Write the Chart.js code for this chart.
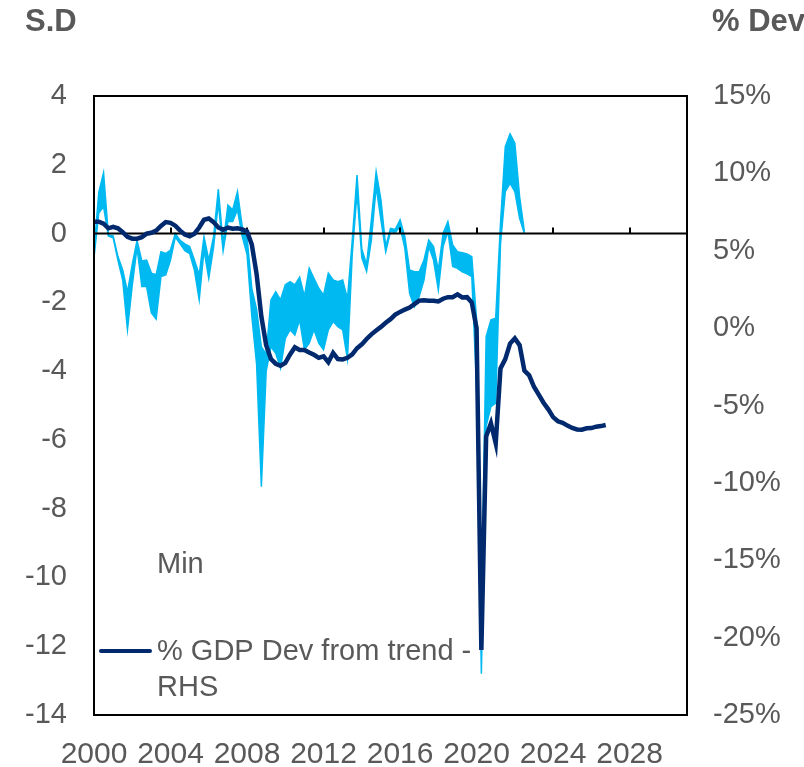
<!DOCTYPE html>
<html>
<head>
<meta charset="utf-8">
<script src="https://cdn.jsdelivr.net/npm/chart.js@4.4.1/dist/chart.umd.min.js"></script>
<style>
  body { margin: 0; background: #fff; }
  canvas { display: block; }
</style>
</head>
<body>
<canvas id="chart" width="804" height="767"></canvas>
<script>
// Quarterly data, 2000Q1 onwards
const startYear = 2000;

// % GDP deviation from trend (RHS), 2000Q1 - 2026Q4
const gdpDev = [
    6.88, 6.88, 6.75, 6.45, 6.55, 6.45, 6.2, 5.9, 5.78, 5.78,
    5.88, 6.1, 6.16, 6.3, 6.6, 6.85, 6.8, 6.62, 6.3, 6.05,
    5.93, 6.1, 6.5, 7.0, 7.08, 6.85, 6.5, 6.35, 6.5, 6.42,
    6.45, 6.38, 6.25, 5.4, 3.5, 0.74, -1.1, -2.0, -2.3, -2.43,
    -2.25, -1.7, -1.24, -1.41, -1.41, -1.57, -1.72, -1.92, -1.82, -2.2,
    -1.6, -2.0, -2.02, -1.92, -1.7, -1.3, -1.05, -0.7, -0.4, -0.15,
    0.08, 0.35, 0.58, 0.87, 1.05, 1.2, 1.33, 1.55, 1.78, 1.8,
    1.77, 1.77, 1.72, 1.9, 2.0, 2.0, 2.18, 1.98, 2.0, 1.65,
    0.0, -20.8, -7.0, -6.15, -7.44, -2.6, -2.0, -1.0, -0.66, -1.1,
    -2.75, -3.05, -3.79, -4.3, -4.82, -5.25, -5.75, -6.02, -6.12, -6.3,
    -6.45, -6.55, -6.56, -6.47, -6.46, -6.37, -6.33, -6.26
];

// Band upper edge (S.D), 2000Q1 - 2022Q3
const maxSD = [
    -0.5, 1.2, 1.77, -0.04, -0.07, -0.67, -1.06, -1.7, -0.9, -0.2,
    -0.8, -0.77, -1.15, -1.2, -0.53, -0.58, -0.48, 0.0, -0.2, -0.3,
    -0.38, -0.77, -1.2, -0.09, -0.77, -0.09, 1.29, -0.3, 0.83, 0.69,
    1.22, 0.2, -0.1, -1.6, -2.2, -3.3, -3.5, -1.93, -1.69, -1.93,
    -1.49, -1.4, -1.49, -1.27, -1.83, -1.01, -1.3, -1.59, -1.79, -1.15,
    -1.35, -1.4, -1.35, -1.9, -0.2, 1.7, -0.45, -0.9, 0.4, 1.8,
    0.98, -0.38, 0.15, 0.12, 0.4, -0.09, -1.06, -1.11, -1.11, -0.77,
    -0.19, -0.38, -1.06, 0.01, 0.35, -0.33, -0.53, -0.56, -0.59, -0.67,
    -2.5, -11.0, -3.0, -2.51, -2.46, 0.3, 2.53, 2.9, 2.63, 1.07,
    0.06
];

// Band lower edge (S.D), "Min"
const minSD = [
    -0.7, 0.6, 0.78, -0.07, -0.12, -0.77, -1.35, -2.8, -1.5, -0.4,
    -1.54, -1.54, -2.31, -2.49, -1.25, -1.2, -0.77, -0.1, -0.3, -0.5,
    -0.58, -1.06, -1.93, -0.48, -1.3, -0.4, 0.89, -0.5, 0.35, 0.35,
    0.69, -0.09, -0.6, -2.4, -3.8, -7.36, -4.0, -3.29, -3.48, -3.92,
    -3.05, -2.8, -2.95, -2.51, -3.38, -3.19, -2.8, -3.19, -3.38, -2.8,
    -2.56, -2.71, -2.8, -3.65, -0.6, 1.2, -0.7, -1.1, -0.19, 1.36,
    0.4, -0.53, 0.06, 0.03, 0.2, -0.43, -1.74, -2.13, -1.83, -1.35,
    -0.38, -0.77, -1.64, -0.38, 0.06, -0.96, -1.01, -1.11, -1.17, -1.25,
    -4.5, -12.8, -5.6, -5.03, -4.93, -0.3, 1.22, 1.46, 1.22, 0.44,
    0.0
];

const xTicks = { min: 2000, max: 2031, step: 4 };
const leftTicks = { min: -14, max: 4, step: 2 };
const rightTicks = { min: -25, max: 15, step: 5 };

const FONT = "'Liberation Sans', Arial, sans-serif";
const TEXT = '#595959';
const BAND = '#00B9F1';
const NAVY = '#00296E';

function toPoints(values) {
    return values.map((v, i) => ({ x: startYear + i * 0.25, y: v }));
}

// Frame, zero axis with ticks, axis titles and in-plot legend
const decor = {
    id: 'decor',
    beforeDatasetDraw(chart, args) {
        if (args.index !== 2) return;
        const { ctx, chartArea: a, scales } = chart;
        const y0 = scales.y.getPixelForValue(0);
        ctx.save();
        ctx.strokeStyle = '#000';
        ctx.lineWidth = 2;
        ctx.beginPath();
        ctx.moveTo(a.left, y0);
        ctx.lineTo(a.right, y0);
        for (let v = xTicks.min; v <= xTicks.max; v += xTicks.step) {
            const px = Math.round(scales.x.getPixelForValue(v));
            ctx.moveTo(px, y0);
            ctx.lineTo(px, y0 - 6);
        }
        ctx.stroke();
        ctx.restore();
    },
    afterDraw(chart) {
        const { ctx, chartArea: a } = chart;
        ctx.save();
        ctx.strokeStyle = '#000';
        ctx.lineWidth = 2;
        ctx.strokeRect(a.left, a.top, a.right - a.left, a.bottom - a.top);

        ctx.fillStyle = TEXT;
        ctx.font = 'bold 31px ' + FONT;
        ctx.textBaseline = 'middle';
        ctx.textAlign = 'left';
        ctx.fillText('S.D', 25, 22);
        ctx.fillText('% Dev', 712, 22);

        ctx.font = '29px ' + FONT;
        ctx.fillText('Min', a.left + 63, a.bottom - 150);
        ctx.fillText('% GDP Dev from trend -', a.left + 63, a.bottom - 63);
        ctx.fillText('RHS', a.left + 63, a.bottom - 27);

        ctx.strokeStyle = NAVY;
        ctx.lineWidth = 4;
        ctx.lineCap = 'round';
        ctx.beginPath();
        ctx.moveTo(a.left + 7, a.bottom - 64);
        ctx.lineTo(a.left + 56, a.bottom - 64);
        ctx.stroke();
        ctx.restore();
    }
};

const tickFont = { family: FONT, size: 29 };

new Chart(document.getElementById('chart'), {
    type: 'line',
    data: {
        datasets: [
            {
                label: 'Max',
                data: toPoints(maxSD),
                yAxisID: 'y',
                borderColor: BAND,
                backgroundColor: BAND,
                borderWidth: 1.5,
                pointRadius: 0,
                fill: '+1',
                order: 2
            },
            {
                label: 'Min',
                data: toPoints(minSD),
                yAxisID: 'y',
                borderColor: BAND,
                backgroundColor: BAND,
                borderWidth: 1.5,
                pointRadius: 0,
                fill: false,
                order: 1
            },
            {
                label: '% GDP Dev from trend - RHS',
                data: toPoints(gdpDev),
                yAxisID: 'y2',
                borderColor: NAVY,
                borderWidth: 4.5,
                pointRadius: 0,
                fill: false,
                order: 0
            }
        ]
    },
    options: {
        responsive: false,
        animation: false,
        layout: { padding: { top: 96, left: 0, right: 0, bottom: 0 } },
        plugins: {
            legend: { display: false },
            tooltip: { enabled: false }
        },
        scales: {
            x: {
                type: 'linear',
                min: xTicks.min,
                max: xTicks.max,
                grid: { display: false, drawTicks: false },
                border: { display: false },
                ticks: {
                    stepSize: xTicks.step,
                    includeBounds: false,
                    autoSkip: false,
                    maxRotation: 0,
                    padding: 22,
                    color: TEXT,
                    font: { family: FONT, size: 30 },
                    callback: (v) => String(v)
                },
                afterFit: (s) => { s.height = 52; }
            },
            y: {
                position: 'left',
                min: leftTicks.min,
                max: leftTicks.max,
                grid: { display: false, drawTicks: false },
                border: { display: false },
                ticks: { stepSize: leftTicks.step, padding: 27, color: TEXT, font: tickFont },
                afterFit: (s) => { s.width = 94; }
            },
            y2: {
                position: 'right',
                min: rightTicks.min,
                max: rightTicks.max,
                grid: { display: false, drawTicks: false },
                border: { display: false },
                ticks: {
                    stepSize: rightTicks.step,
                    padding: 26,
                    color: TEXT,
                    font: tickFont,
                    callback: (v) => v + '%'
                },
                afterFit: (s) => { s.width = 117; }
            }
        }
    },
    plugins: [decor]
});
</script>
</body>
</html>
